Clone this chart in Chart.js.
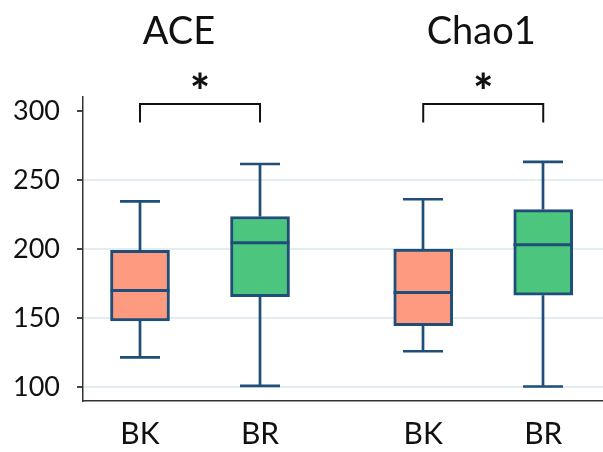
<!DOCTYPE html>
<html>
<head>
<meta charset="utf-8">
<script src="https://cdn.jsdelivr.net/npm/chart.js@4/dist/chart.umd.min.js"></script>
<style>
  html, body { margin: 0; padding: 0; background: #fff; }
  #wrap { width: 603px; height: 452px; }
</style>
</head>
<body>
<div id="wrap"><canvas id="richnessChart"></canvas></div>
<script>
// richness indices, one box per sample type
const groups = ["ACE", "Chao1"];
const samples = ["BK", "BR"];
const yTicks = [100, 150, 200, 250, 300];
const significance = ["*", "*"];

const bkMin = [121.5, 126];
const bkQ1 = [148, 144.5];
const bkMedian = [170, 168.5];
const bkQ3 = [199, 200];
const bkMax = [234.5, 236];

const brMin = [101, 100.5];
const brQ1 = [165.5, 166.5];
const brMedian = [204.5, 203];
const brQ3 = [223.5, 228.5];
const brMax = [261.5, 263];

const stats = [
  { min: bkMin, q1: bkQ1, med: bkMedian, q3: bkQ3, max: bkMax },
  { min: brMin, q1: brQ1, med: brMedian, q3: brQ3, max: brMax },
];

// layout
const GROUP_STEP = 2.36;
const BOX_WIDTH = 59;
const CAP_WIDTH = 40;
const BRACKET_TOP = 305;
const BRACKET_FOOT = 291.5;
const STROKE = "#1f4e79";
const fills = ["#fe9a80", "#4cc67f"];
const FONT = "Lato, 'Open Sans', sans-serif";
const titleNudge = [-21, -2];

const pos = (gi, si) => gi * GROUP_STEP + si;
const positions = [];
groups.forEach((g, gi) => samples.forEach((s, si) => positions.push(pos(gi, si))));

// whiskers, medians, significance brackets and panel titles
const boxExtras = {
  id: "boxExtras",
  afterDatasetsDraw(chart) {
    const { ctx, scales: { x, y } } = chart;
    ctx.save();
    ctx.lineCap = "butt";
    stats.forEach((st, si) => {
      groups.forEach((g, gi) => {
        const cx = Math.round(x.getPixelForValue(pos(gi, si)));
        const yMin = y.getPixelForValue(st.min[gi]);
        const yQ1 = y.getPixelForValue(st.q1[gi]);
        const yMed = y.getPixelForValue(st.med[gi]);
        const yQ3 = y.getPixelForValue(st.q3[gi]);
        const yMax = y.getPixelForValue(st.max[gi]);
        ctx.strokeStyle = STROKE;
        ctx.lineWidth = 2.7;
        ctx.beginPath();
        ctx.moveTo(cx, yQ3);
        ctx.lineTo(cx, yMax);
        ctx.moveTo(cx - CAP_WIDTH / 2, yMax);
        ctx.lineTo(cx + CAP_WIDTH / 2, yMax);
        ctx.moveTo(cx, yQ1);
        ctx.lineTo(cx, yMin);
        ctx.moveTo(cx - CAP_WIDTH / 2, yMin);
        ctx.lineTo(cx + CAP_WIDTH / 2, yMin);
        ctx.stroke();
        ctx.lineWidth = 3;
        ctx.beginPath();
        ctx.moveTo(cx - BOX_WIDTH / 2, yMed);
        ctx.lineTo(cx + BOX_WIDTH / 2, yMed);
        ctx.stroke();
      });
    });

    groups.forEach((g, gi) => {
      const xl = x.getPixelForValue(pos(gi, 0));
      const xr = x.getPixelForValue(pos(gi, 1));
      const yt = y.getPixelForValue(BRACKET_TOP);
      const yf = y.getPixelForValue(BRACKET_FOOT);
      ctx.strokeStyle = "#111";
      ctx.lineWidth = 2;
      ctx.beginPath();
      ctx.moveTo(xl, yf);
      ctx.lineTo(xl, yt);
      ctx.lineTo(xr, yt);
      ctx.lineTo(xr, yf);
      ctx.stroke();

      ctx.fillStyle = "#111";
      ctx.textAlign = "center";
      ctx.textBaseline = "alphabetic";
      ctx.font = "900 47px " + FONT;
      ctx.fillText(significance[gi], (xl + xr) / 2, yt + 5);

      ctx.font = "38px " + FONT;
      ctx.fillText(g, (xl + xr) / 2 + titleNudge[gi], 44);
    });
    ctx.restore();
  },
};

new Chart(document.getElementById("richnessChart"), {
  type: "bar",
  data: {
    datasets: samples.map((s, si) => ({
      label: s,
      data: groups.map((g, gi) => ({ x: pos(gi, si), y: [stats[si].q1[gi], stats[si].q3[gi]] })),
      backgroundColor: fills[si],
      borderColor: STROKE,
      borderWidth: 3,
      borderSkipped: false,
      barThickness: BOX_WIDTH,
      grouped: false,
    })),
  },
  options: {
    responsive: true,
    maintainAspectRatio: false,
    animation: false,
    layout: { padding: { top: 97, left: 0, right: 0, bottom: 0 } },
    plugins: { legend: { display: false }, tooltip: { enabled: false } },
    scales: {
      x: {
        type: "linear",
        min: -0.475,
        max: 3.858,
        offset: false,
        afterBuildTicks: (scale) => {
          scale.ticks = positions.map((v) => ({ value: v }));
        },
        afterFit: (scale) => {
          scale.height = 51;
        },
        grid: { display: false, drawTicks: false, offset: false },
        border: { color: "#333", width: 1.5 },
        ticks: {
          autoSkip: false,
          maxRotation: 0,
          padding: 15,
          color: "#111",
          font: { family: FONT, size: 30 },
          callback: (v, i) => samples[i % samples.length],
        },
      },
      y: {
        min: 90,
        max: 310,
        afterBuildTicks: (scale) => {
          scale.ticks = yTicks.map((v) => ({ value: v }));
        },
        afterFit: (scale) => {
          scale.width = 83;
        },
        grid: {
          color: (c) => (c.tick && c.tick.value === 300 ? "rgba(0,0,0,0)" : "#e3ecf0"),
          lineWidth: 2,
          tickColor: "#444",
          tickLength: 6,
        },
        border: { color: "#333", width: 1.5 },
        ticks: {
          padding: 17,
          color: "#111",
          font: { family: FONT, size: 27 },
        },
      },
    },
  },
  plugins: [boxExtras],
});
</script>
</body>
</html>
